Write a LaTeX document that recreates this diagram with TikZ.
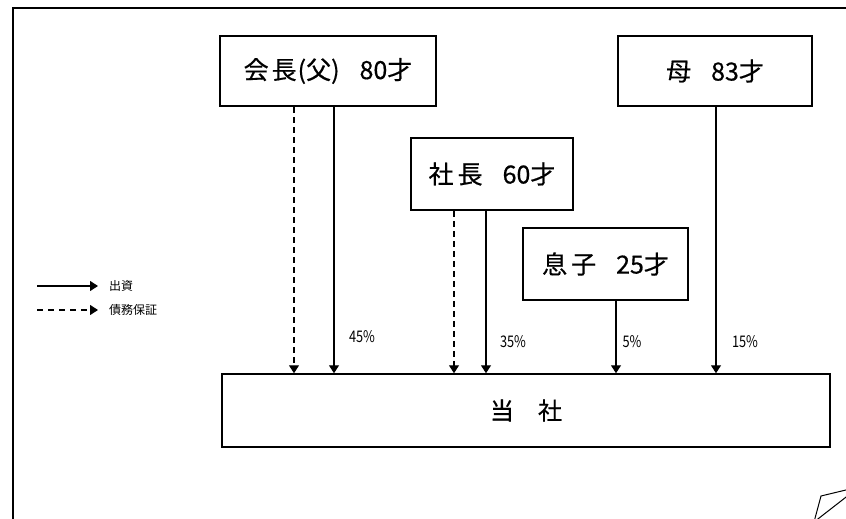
\documentclass[tikz,border=0pt]{standalone}
\usepackage{fontspec}
\usepackage{graphicx}
\setmainfont{Noto Sans CJK JP}
\newfontfamily\boxfont{Noto Sans CJK JP}[FakeBold=0.5]
\usetikzlibrary{arrows.meta}
\begin{document}
\begin{tikzpicture}[x=1pt,y=-1pt,
  box/.style={draw=black,line width=1.5pt,inner sep=0pt,font=\boxfont\fontsize{25}{29}\selectfont},
  arr/.style={line width=1.2pt,-{Triangle[width=10pt,length=8pt]}},
  dsh/.style={arr,dash pattern=on 6pt off 4pt},
  pct/.style={inner sep=0pt,font=\fontsize{16}{18}\selectfont},
  leg/.style={inner sep=0pt,anchor=west,font=\fontsize{12}{14}\selectfont}]
\useasboundingbox (0,0) rectangle (846,519);
% outer frame
\draw[line width=1.6pt] (13,530) -- (13,8) -- (860,8);
% page curl
\draw[line width=1pt] (814,522) -- (821,496) -- (850,489);
\draw[line width=1pt] (814,522) -- (850,494);
% boxes
\node[box,minimum width=216pt,minimum height=70pt] (kaicho) at (328,71) {会\kern3pt 長\kern1pt(父)\hspace{20pt}80才};
\node[box,minimum width=194pt,minimum height=70pt] (haha) at (715,71) {母\hspace{20pt}83才};
\node[box,minimum width=162pt,minimum height=72pt] (shacho) at (492,174) {社\kern4pt 長\hspace{20pt}60才};
\node[box,minimum width=165pt,minimum height=72pt] (musuko) at (605.5,264) {息\kern4pt 子\hspace{20pt}25才};
\node[box,minimum width=608pt,minimum height=73pt,font=\boxfont\fontsize{24}{27}\selectfont] (tosha) at (526,410.5) {当\hspace{24pt}社};
% connector columns
\coordinate (c1) at (294,0);
\coordinate (c2) at (334,0);
\coordinate (c3) at (454,0);
\coordinate (c4) at (486,0);
\coordinate (c5) at (616,0);
\coordinate (c6) at (716,0);
\draw[dsh] (kaicho.south -| c1) -- (tosha.north -| c1);
\draw[arr] (kaicho.south -| c2) -- (tosha.north -| c2);
\draw[dsh] (shacho.south -| c3) -- (tosha.north -| c3);
\draw[arr] (shacho.south -| c4) -- (tosha.north -| c4);
\draw[arr] (musuko.south -| c5) -- (tosha.north -| c5);
\draw[arr] (haha.south -| c6) -- (tosha.north -| c6);
% percentages
\node[pct] (p1) at (362,337) {\scalebox{0.8}[1]{45\%}};
\node[pct] (p2) at (513,342) {\scalebox{0.8}[1]{35\%}};
\node[pct] (p3) at (632,342) {\scalebox{0.8}[1]{5\%}};
\node[pct] (p4) at (745,342) {\scalebox{0.8}[1]{15\%}};
% legend
\coordinate (l1a) at (37,286);
\coordinate (l1b) at (98,286);
\coordinate (l2a) at (37,310);
\coordinate (l2b) at (98,310);
\draw[arr] (l1a) -- (l1b);
\draw[line width=1.2pt,dash pattern=on 6pt off 5pt,-{Triangle[width=10pt,length=8pt]}] (l2a) -- (l2b);
\node[leg] (t1) at (109,286) {出資};
\node[leg] (t2) at (109,310) {債務保証};
\end{tikzpicture}
\end{document}
